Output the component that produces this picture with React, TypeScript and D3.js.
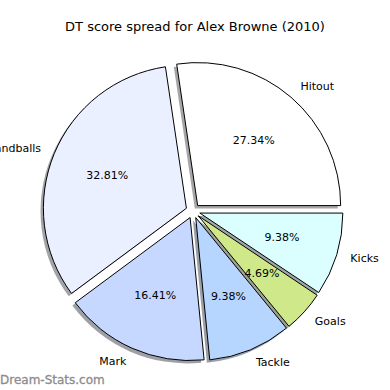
import React from "react";
import * as d3 from "d3";

const labels = ["Hitout", "Handballs", "Mark", "Tackle", "Goals", "Kicks"];
const values = [35, 42, 21, 12, 6, 12];
const colors = ["#ffffff", "#eaf0ff", "#c6d8ff", "#b6d6ff", "#cfe98a", "#dbffff"];
const explode = [0.05, 0.05, 0.05, 0.05, 0.05, 0.05];
const title = "DT score spread for Alex Browne (2010)";
const watermark = "Dream-Stats.com";

const App = () => {
  const svgRef = React.useRef<SVGSVGElement>(null);
  const width = 390;
  const height = 390;
  const cx = 193;
  const cy = 211;
  const r = 143;

  React.useEffect(() => {
    const svgEl = d3.select(svgRef.current);
    svgEl.selectAll("*").remove();

    const total = d3.sum(values);
    // counterclockwise from 3 o'clock, like matplotlib
    const pie = d3
      .pie<number>()
      .sort(null)
      .startAngle(Math.PI / 2)
      .endAngle(Math.PI / 2 - 2 * Math.PI);
    const arcs = pie(values);
    const arc = d3.arc<d3.PieArcDatum<number>>().innerRadius(0).outerRadius(r);

    const offset = (d: d3.PieArcDatum<number>, i: number) => {
      const a = (d.startAngle + d.endAngle) / 2;
      return [explode[i] * r * Math.sin(a), -explode[i] * r * Math.cos(a)];
    };

    const shade = (c: string) => {
      const rgb = d3.rgb(c);
      return d3.rgb(rgb.r * 0.3, rgb.g * 0.3, rgb.b * 0.3).toString();
    };

    const g = svgEl.append("g").attr("transform", `translate(${cx},${cy})`);

    // shadows below every wedge
    g.selectAll(".shadow")
      .data(arcs)
      .enter()
      .append("path")
      .attr("d", (d) => arc(d))
      .attr("transform", (d, i) => {
        const [ox, oy] = offset(d, i);
        return `translate(${ox - 0.02 * r},${oy + 0.02 * r})`;
      })
      .attr("fill", (d, i) => shade(colors[i]))
      .attr("opacity", 0.5);

    g.selectAll(".wedge")
      .data(arcs)
      .enter()
      .append("path")
      .attr("d", (d) => arc(d))
      .attr("transform", (d, i) => {
        const [ox, oy] = offset(d, i);
        return `translate(${ox},${oy})`;
      })
      .attr("fill", (d, i) => colors[i])
      .attr("stroke", "black")
      .attr("stroke-width", 1)
      .attr("stroke-linejoin", "round");

    const font = "DejaVu Sans, sans-serif";

    // category labels
    g.selectAll(".label")
      .data(arcs)
      .enter()
      .append("text")
      .each(function (d, i) {
        const a = (d.startAngle + d.endAngle) / 2;
        const [ox, oy] = offset(d, i);
        const x = ox + 1.1 * r * Math.sin(a);
        const y = oy - 1.1 * r * Math.cos(a);
        d3.select(this)
          .attr("x", x)
          .attr("y", y)
          .attr("text-anchor", Math.sin(a) > 0 ? "start" : "end")
          .attr("dominant-baseline", "central")
          .text(labels[i]);
      })
      .attr("font-family", font)
      .attr("font-size", 11)
      .attr("fill", "black");

    // percent labels
    g.selectAll(".pct")
      .data(arcs)
      .enter()
      .append("text")
      .each(function (d, i) {
        const a = (d.startAngle + d.endAngle) / 2;
        const [ox, oy] = offset(d, i);
        d3.select(this)
          .attr("x", ox + 0.6 * r * Math.sin(a))
          .attr("y", oy - 0.6 * r * Math.cos(a))
          .text(`${((values[i] / total) * 100).toFixed(2)}%`);
      })
      .attr("text-anchor", "middle")
      .attr("dominant-baseline", "central")
      .attr("font-family", font)
      .attr("font-size", 11)
      .attr("fill", "black");

    svgEl
      .append("text")
      .attr("x", 195)
      .attr("y", 26)
      .attr("text-anchor", "middle")
      .attr("dominant-baseline", "central")
      .attr("font-family", font)
      .attr("font-size", 13)
      .text(title);

    svgEl
      .append("text")
      .attr("x", 0)
      .attr("y", 384)
      .attr("font-family", font)
      .attr("font-size", 12)
      .attr("fill", "#8c8c8c")
      .attr("stroke", "#8c8c8c")
      .attr("stroke-width", 0.3)
      .text(watermark);
  }, []);

  return (
    <svg
      ref={svgRef}
      width={width}
      height={height}
      style={{ position: "absolute", left: 0, top: 0, background: "white" }}
    />
  );
};

export default App;
